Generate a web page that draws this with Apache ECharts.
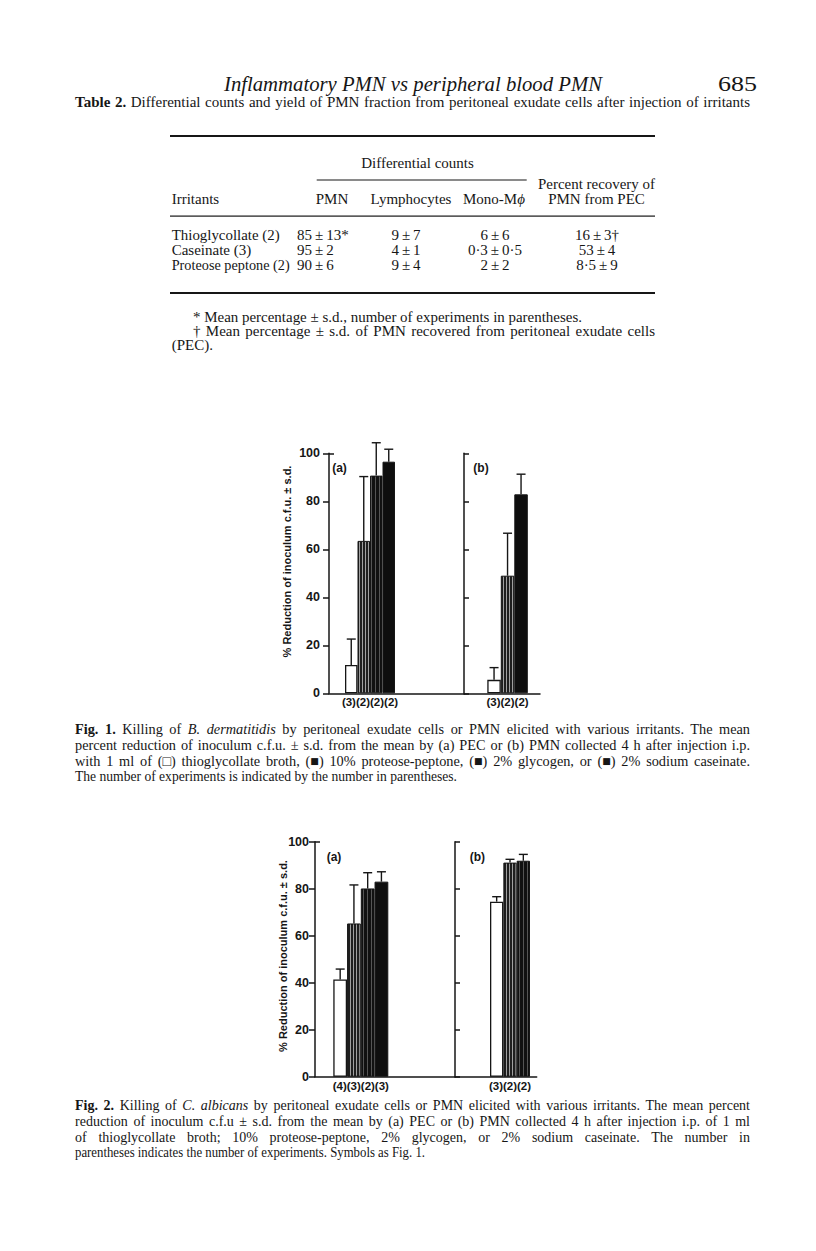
<!DOCTYPE html>
<html><head><meta charset="utf-8">
<script src="https://cdn.jsdelivr.net/npm/echarts@6.0.0/dist/echarts.min.js"></script>
<style>
html,body{margin:0;padding:0;background:#fff;}
#page{position:relative;width:816px;height:1251px;overflow:hidden;background:#fff;}
#txt{position:absolute;left:0;top:0;}
#chart{position:absolute;left:0;top:0;width:816px;height:1251px;}
</style></head><body>
<div id="page"><svg id="txt" width="816" height="1251" xmlns="http://www.w3.org/2000/svg"></svg><div id="chart"></div></div>
<script>
// ---------------- DATA ----------------
const yTicks = [0, 20, 40, 60, 80, 100];
const yTitle = '% Reduction of inoculum c.f.u. \u00b1 s.d.';

// Fig. 1 — B. dermatitidis
const fig1A_treat = ['thioglycollate', 'proteose-peptone', 'glycogen', 'caseinate'];
const fig1A_mean  = [11.8, 63.5, 90.7, 96.5];
const fig1A_sd    = [10.8, 26.8, 13.7, 5.2];
const fig1A_n     = ['(3)', '(2)', '(2)', '(2)'];
const fig1B_treat = ['thioglycollate', 'proteose-peptone', 'caseinate'];
const fig1B_mean  = [5.6, 49.0, 82.9];
const fig1B_sd    = [5.1, 17.7, 8.4];
const fig1B_n     = ['(3)', '(2)', '(2)'];

// Fig. 2 — C. albicans
const fig2A_treat = ['thioglycollate', 'proteose-peptone', 'glycogen', 'caseinate'];
const fig2A_mean  = [41.4, 65.2, 80.1, 83.0];
const fig2A_sd    = [4.4, 16.4, 6.7, 4.2];
const fig2A_n     = ['(4)', '(3)', '(2)', '(3)'];
const fig2B_treat = ['thioglycollate', 'proteose-peptone', 'glycogen'];
const fig2B_mean  = [74.5, 91.1, 91.9];
const fig2B_sd    = [2.1, 1.4, 2.7];
const fig2B_n     = ['(3)', '(2)', '(2)'];

// Table 2
const tblIrritants = ['Thioglycollate (2)', 'Caseinate (3)', 'Proteose peptone (2)'];
const tblPMN       = ['85 \u00b1 13*', '95 \u00b1 2', '90 \u00b1 6'];
const tblLymph     = ['9 \u00b1 7', '4 \u00b1 1', '9 \u00b1 4'];
const tblMono      = ['6 \u00b1 6', '0\u00b73 \u00b1 0\u00b75', '2 \u00b1 2'];
const tblRecovery  = ['16 \u00b1 3\u2020', '53 \u00b1 4', '8\u00b75 \u00b1 9'];

// ---------------- TEXT LAYER ----------------
const NS = 'http://www.w3.org/2000/svg';
const SERIF = "'Liberation Serif','Times New Roman',serif";
const INK = '#161616';
const svg = document.getElementById('txt');

function addText(parts, x, y, o) {
  o = o || {};
  const t = document.createElementNS(NS, 'text');
  t.setAttribute('x', x); t.setAttribute('y', y);
  t.setAttribute('font-size', o.size || 15);
  t.setAttribute('font-family', SERIF);
  t.setAttribute('fill', INK);
  if (o.anchor) t.setAttribute('text-anchor', o.anchor);
  if (o.italic) t.setAttribute('font-style', 'italic');
  (Array.isArray(parts) ? parts : [parts]).forEach(p => {
    const ts = document.createElementNS(NS, 'tspan');
    if (typeof p === 'string') ts.textContent = p;
    else {
      ts.textContent = p.t;
      if (p.b) ts.setAttribute('font-weight', 'bold');
      if (p.i) ts.setAttribute('font-style', 'italic');
    }
    t.appendChild(ts);
  });
  svg.appendChild(t);
  if (o.w) {
    const L = t.getComputedTextLength();
    const n = (t.textContent.match(/ /g) || []).length;
    if (o.justify && L < o.w && n > 0) t.style.wordSpacing = ((o.w - L) / n) + 'px';
    else if (!o.shrinkOnly || L > o.w) { t.setAttribute('textLength', o.w); t.setAttribute('lengthAdjust', 'spacingAndGlyphs'); }
  }
  return t;
}
function rule(x, y, w, h) {
  const r = document.createElementNS(NS, 'rect');
  r.setAttribute('x', x); r.setAttribute('y', y); r.setAttribute('width', w); r.setAttribute('height', h);
  r.setAttribute('fill', INK);
  svg.appendChild(r);
}
const thin = s => s.replace(/ \u00b1 /g, '\u2009\u00b1\u2009');

// running head
addText('Inflammatory PMN vs peripheral blood PMN', 224, 91, {size: 21, italic: true, w: 378});
addText('685', 718, 91, {size: 21, w: 39});
// table title
addText([{t: 'Table 2.', b: 1}, ' Differential counts and yield of PMN fraction from peritoneal exudate cells after injection of irritants'], 75, 107, {size: 15, w: 675, justify: true});
// rules
rule(170, 135, 485, 2);
rule(316.7, 179.5, 210, 1);
rule(170, 215.5, 485, 1.2);
rule(170, 292, 485, 2);
// headings
addText('Differential counts', 417.5, 168, {size: 15, anchor: 'middle'});
addText('Percent recovery of', 538, 188.5, {size: 15, w: 117});
addText('Irritants', 171.7, 204, {size: 15});
addText('PMN', 332, 204, {size: 15, anchor: 'middle'});
addText('Lymphocytes', 411, 204, {size: 15, anchor: 'middle'});
addText(['Mono-M', {t: '\u03d5', i: 1}], 494, 204, {size: 15, anchor: 'middle'});
addText('PMN from PEC', 596.5, 204, {size: 15, anchor: 'middle'});
// rows
const rowY = [240, 255, 270];
const rowW = [108, 88, 118];
tblIrritants.forEach((s, i) => {
  addText(s, 171.7, rowY[i], {size: 15, w: rowW[i], shrinkOnly: true});
  addText(thin(tblPMN[i]), 297, rowY[i], {size: 15});
  addText(thin(tblLymph[i]), 406, rowY[i], {size: 15, anchor: 'middle'});
  addText(thin(tblMono[i]), 495, rowY[i], {size: 15, anchor: 'middle'});
  addText(thin(tblRecovery[i]), 597, rowY[i], {size: 15, anchor: 'middle'});
});
// footnotes
addText('* Mean percentage \u00b1 s.d., number of experiments in parentheses.', 193, 322, {size: 15, w: 389, justify: true});
addText('\u2020 Mean percentage \u00b1 s.d. of PMN recovered from peritoneal exudate cells', 193, 336, {size: 15, w: 462, justify: true});
addText('(PEC).', 171.7, 350, {size: 15});

// figure captions
const cap1 = [
  [{t: 'Fig. 1.', b: 1}, ' Killing of ', {t: 'B. dermatitidis', i: 1}, ' by peritoneal exudate cells or PMN elicited with various irritants. The mean'],
  ['percent reduction of inoculum c.f.u. \u00b1 s.d. from the mean by (a) PEC or (b) PMN collected 4 h after injection i.p.'],
  ['with 1 ml of (\u25a1) thioglycollate broth, (\u25a0) 10% proteose-peptone, (\u25a0) 2% glycogen, or (\u25a0) 2% sodium caseinate.'],
  ['The number of experiments is indicated by the number in parentheses.']
];
const cap2 = [
  [{t: 'Fig. 2.', b: 1}, ' Killing of ', {t: 'C. albicans', i: 1}, ' by peritoneal exudate cells or PMN elicited with various irritants. The mean percent'],
  ['reduction of inoculum c.f.u \u00b1 s.d. from the mean by (a) PEC or (b) PMN collected 4 h after injection i.p. of 1 ml'],
  ['of thioglycollate broth; 10% proteose-peptone, 2% glycogen, or 2% sodium caseinate. The number in'],
  ['parentheses indicates the number of experiments. Symbols as Fig. 1.']
];
const cap1Y = [734, 750, 765.5, 781];
const cap2Y = [1110, 1126, 1141.5, 1157];
cap1.forEach((l, i) => addText(l, 75, cap1Y[i], i < 3 ? {size: 14.3, w: 675, justify: true} : {size: 14.3, w: 382}));
cap2.forEach((l, i) => addText(l, 75, cap2Y[i], i < 3 ? {size: 14, w: 675, justify: true} : {size: 14, w: 350}));

// ---------------- CHART ----------------
const SANS = "'Liberation Sans',Arial,Helvetica,sans-serif";
function stripe(cols) {
  const c = document.createElement('canvas');
  c.width = cols.length; c.height = 4;
  const g = c.getContext('2d');
  cols.forEach((col, i) => { g.fillStyle = col; g.fillRect(i, 0, 1, 4); });
  return {image: c.toDataURL(), repeat: 'repeat', imageWidth: c.width, imageHeight: c.height};
}
const STYLE = {
  'thioglycollate':   {color: '#ffffff', borderColor: INK, borderWidth: 1.3},
  'proteose-peptone': {color: stripe(['#1e1e1e', '#1e1e1e', '#a0a0a0']), borderColor: INK, borderWidth: 1},
  'glycogen':         {color: stripe(['#111111', '#111111', '#111111', '#555555']), borderColor: INK, borderWidth: 1},
  'caseinate':        {color: '#0e0e0e', borderColor: INK, borderWidth: 1}
};

const panels = [
  {left: 329, top: 453.3, width: 135, height: 240, bw: 12.5, start: 16, labels: true, lm: 9,
   treat: fig1A_treat, mean: fig1A_mean, sd: fig1A_sd, n: fig1A_n},
  {left: 464, top: 453.3, width: 76, height: 240, bw: 13.5, start: 23.3, labels: false,
   treat: fig1B_treat, mean: fig1B_mean, sd: fig1B_sd, n: fig1B_n},
  {left: 315, top: 841.7, width: 140, height: 235, bw: 13.75, start: 18.3, labels: true, lm: 6,
   treat: fig2A_treat, mean: fig2A_mean, sd: fig2A_sd, n: fig2A_n},
  {left: 455, top: 841.7, width: 81.7, height: 235, bw: 13.33, start: 35, labels: false,
   treat: fig2B_treat, mean: fig2B_mean, sd: fig2B_sd, n: fig2B_n}
];

const grid = [], xAxis = [], yAxis = [], series = [];
const axisLineStyle = {color: INK, width: 1.5};
panels.forEach((p, i) => {
  grid.push({left: p.left, top: p.top, width: p.width, height: p.height, outerBoundsMode: 'none'});
  const min = 0.5 - p.start / p.bw;
  xAxis.push({gridIndex: i, type: 'value', min: min, max: min + p.width / p.bw,
    axisLine: {show: true, onZero: false, lineStyle: axisLineStyle},
    axisTick: {show: false}, axisLabel: {show: false}, splitLine: {show: false}});
  const yi = yAxis.length;
  yAxis.push({gridIndex: i, type: 'value', position: 'left',
    min: yTicks[0], max: yTicks[yTicks.length - 1], interval: yTicks[1] - yTicks[0],
    axisLine: {show: true, onZero: false, lineStyle: axisLineStyle},
    axisTick: {show: true, inside: !p.labels, length: p.labels ? 6 : 5, lineStyle: axisLineStyle},
    axisLabel: {show: p.labels, margin: p.lm || 8, color: INK, fontFamily: SANS, fontWeight: 'bold', fontSize: 12.5},
    splitLine: {show: false}});
  if (p.labels) {
    yAxis.push({gridIndex: i, type: 'value', position: 'left',
      min: yTicks[0], max: yTicks[yTicks.length - 1], interval: yTicks[1] - yTicks[0],
      axisLine: {show: false, onZero: false},
      axisTick: {show: true, inside: true, length: 5, customValues: [yTicks[yTicks.length - 1]], lineStyle: axisLineStyle},
      axisLabel: {show: false}, splitLine: {show: false}});
  }
  // one combined count label under the middle of the bar group
  const nb = p.mean.length;
  const mid = Math.floor((nb - 1) / 2);
  const off = ((nb - 1) / 2 - mid) * p.bw;
  const countText = p.n.join('');
  series.push({type: 'bar', xAxisIndex: i, yAxisIndex: yi, barWidth: p.bw, silent: true,
    label: {show: false},
    data: p.mean.map((v, k) => {
      const item = {value: [k + 1, v], itemStyle: STYLE[p.treat[k]]};
      if (k === mid) item.label = {show: true, position: 'bottom', distance: 3, offset: [off, 0],
        formatter: () => countText, color: INK, fontFamily: SANS, fontWeight: 'bold', fontSize: 11.5};
      return item;
    })});
  series.push({type: 'custom', xAxisIndex: i, yAxisIndex: yi, clip: false, silent: true, z: 3,
    data: p.mean.map((v, k) => [k + 1, v, p.sd[k]]),
    encode: {x: 0, y: 1},
    renderItem: (params, api) => {
      const x = api.value(0), m = api.value(1), s = api.value(2);
      const a = api.coord([x, m]), b = api.coord([x, m + s]);
      const st = {stroke: INK, lineWidth: 1.4};
      return {type: 'group', children: [
        {type: 'line', shape: {x1: a[0], y1: a[1], x2: b[0], y2: b[1]}, style: st},
        {type: 'line', shape: {x1: b[0] - 4.5, y1: b[1], x2: b[0] + 4.5, y2: b[1]}, style: st}
      ]};
    }});
});

function gtext(text, x, y, size, rot) {
  return {type: 'text', x: x, y: y, rotation: rot || 0, silent: true,
    style: {text: text, fill: INK, font: 'bold ' + size + 'px ' + SANS,
      align: 'center', verticalAlign: 'middle', textAlign: 'center', textVerticalAlign: 'middle'}};
}

const chart = echarts.init(document.getElementById('chart'), null, {renderer: 'svg', width: 816, height: 1251});
chart.setOption({
  animation: false,
  backgroundColor: 'transparent',
  grid: grid, xAxis: xAxis, yAxis: yAxis, series: series,
  graphic: [
    gtext(yTitle, 286.7, 561.5, 11, Math.PI / 2),
    gtext(yTitle, 283.3, 956, 11, Math.PI / 2),
    gtext('(a)', 339.5, 468, 12), gtext('(b)', 481, 468, 12),
    gtext('(a)', 334, 856.7, 12), gtext('(b)', 477.3, 856.7, 12)
  ]
});
</script>
</body></html>
